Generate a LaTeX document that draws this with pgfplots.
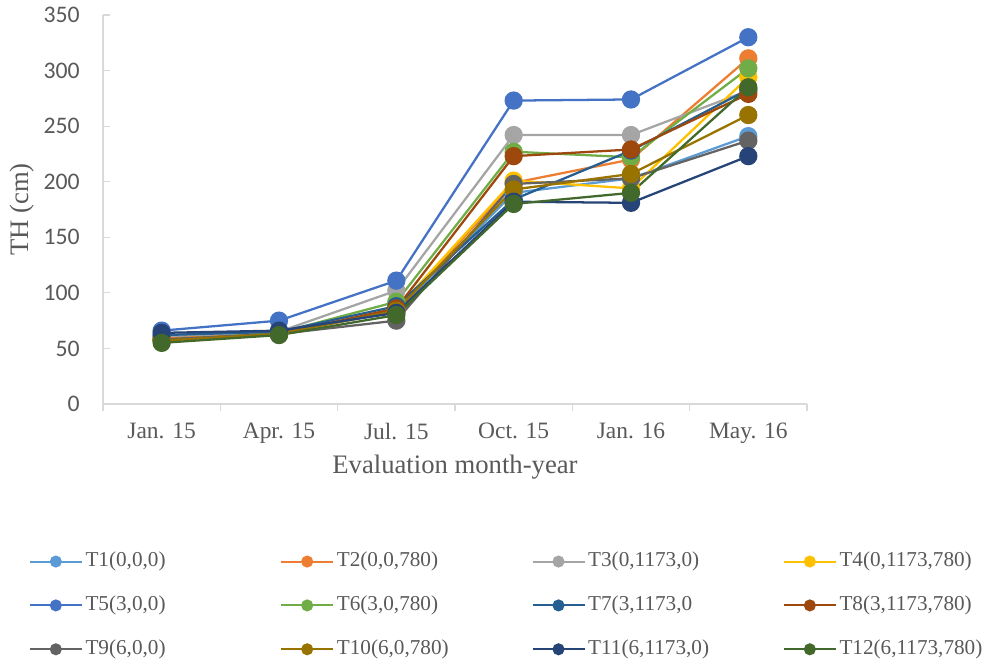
\documentclass[border=0pt]{standalone}
\usepackage{pgfplots}
\pgfplotsset{compat=1.18}
\usepackage{fontspec}
\setmainfont{Liberation Serif}
\newfontfamily\calibri{Carlito}
\definecolor{c1}{HTML}{5B9BD5}
\definecolor{c2}{HTML}{ED7D31}
\definecolor{c3}{HTML}{A5A5A5}
\definecolor{c4}{HTML}{FFC000}
\definecolor{c5}{HTML}{4472C4}
\definecolor{c6}{HTML}{70AD47}
\definecolor{c7}{HTML}{255E91}
\definecolor{c8}{HTML}{9E480E}
\definecolor{c9}{HTML}{636363}
\definecolor{c10}{HTML}{997300}
\definecolor{c11}{HTML}{264478}
\definecolor{c12}{HTML}{43682B}
\definecolor{txt}{HTML}{595959}
\definecolor{axl}{HTML}{D9D9D9}
\newcommand\legent[1]{\addlegendentry{\makebox[146pt][l]{#1}}}
\begin{document}
\begin{tikzpicture}
\useasboundingbox (0,0) rectangle (744.75pt,497.25pt);
\begin{axis}[
  at={(77.25pt,194.25pt)}, anchor=south west,
  width=528pt, height=291.75pt, scale only axis,
  xmin=-0.5, xmax=5.5, ymin=0, ymax=350,
  axis x line=bottom, axis y line=left,
  axis line style={-, axl, line width=0.9pt},
  tick align=inside,
  xtick={0,1,2,3,4,5},
  xticklabels={Jan. 15,Apr. 15,Jul. 15,Oct. 15,Jan. 16,May. 16},
  minor xtick={-0.5,0.5,1.5,2.5,3.5,4.5,5.5},
  major tick length=5pt, minor tick length=5pt,
  x tick style={draw=none},
  minor x tick style={draw=axl, line width=0.9pt, yshift=-5pt},
  y tick style={axl, line width=0.9pt},
  ytick={0,50,...,350},
  /pgf/number format/assume math mode=true,
  yticklabel style={font=\calibri\fontsize{17.8}{20}\selectfont, text=txt, anchor=east, inner sep=0pt, xshift=-17.25pt},
  xticklabel style={font=\fontsize{17.6}{20}\selectfont, text=txt, anchor=north, inner sep=0pt, yshift=-14.25pt},
  xlabel={Evaluation month-year},
  ylabel={TH (cm)},
  xlabel style={font=\fontsize{20}{22}\selectfont, text=txt, at={(axis description cs:0.5,-0.162)}, anchor=center},
  ylabel style={font=\fontsize{20}{22}\selectfont, text=txt, at={(axis description cs:-0.1151,0.5)}, anchor=center},
  every axis plot/.append style={line width=1.7pt, mark=*, mark size=6pt, mark options={solid}},
  legend columns=4,
  legend image code/.code={\draw[#1, line width=1.5pt, mark repeat=2, mark phase=2, mark size=3.75pt] plot coordinates {(0pt,0pt) (19.5pt,0pt) (39pt,0pt)};},
  legend style={draw=none, fill=none, font=\fontsize{15.9}{18}\selectfont, text=txt,
    at={(axis description cs:-0.1057,-0.3795)}, anchor=north west, inner sep=0pt,
    row sep=18.4pt,
    nodes={inner xsep=0pt, inner ysep=0pt, text height=11pt, text depth=3.5pt},
    /tikz/every odd column/.append style={column sep=2pt},
    /tikz/every even column/.append style={column sep=0pt}},
]
\addplot[color=c1] coordinates {(0,60) (1,64) (2,83) (3,190) (4,203) (5,241)}; \legent{T1(0,0,0)}
\addplot[color=c2] coordinates {(0,59) (1,63) (2,84) (3,199) (4,220) (5,311)}; \legent{T2(0,0,780)}
\addplot[color=c3] coordinates {(0,61) (1,65) (2,102) (3,242) (4,242) (5,282)}; \legent{T3(0,1173,0)}
\addplot[color=c4] coordinates {(0,58) (1,63) (2,85) (3,201) (4,194) (5,294)}; \legent{T4(0,1173,780)}
\addplot[color=c5] coordinates {(0,66) (1,75) (2,111) (3,273) (4,274) (5,330)}; \legent{T5(3,0,0)}
\addplot[color=c6] coordinates {(0,57) (1,64) (2,92) (3,227) (4,222) (5,302)}; \legent{T6(3,0,780)}
\addplot[color=c7] coordinates {(0,62) (1,65) (2,88) (3,184) (4,228) (5,283)}; \legent{T7(3,1173,0}
\addplot[color=c8] coordinates {(0,58) (1,63) (2,86) (3,223) (4,229) (5,279)}; \legent{T8(3,1173,780)}
\addplot[color=c9] coordinates {(0,58) (1,63) (2,75) (3,198) (4,203) (5,237)}; \legent{T9(6,0,0)}
\addplot[color=c10] coordinates {(0,57) (1,63) (2,84) (3,193) (4,207) (5,260)}; \legent{T10(6,0,780)}
\addplot[color=c11] coordinates {(0,64) (1,66) (2,82) (3,182) (4,181) (5,223)}; \legent{T11(6,1173,0)}
\addplot[color=c12] coordinates {(0,55) (1,62) (2,80) (3,180) (4,190) (5,285)}; \legent{T12(6,1173,780)}
\end{axis}
\end{tikzpicture}
\end{document}
